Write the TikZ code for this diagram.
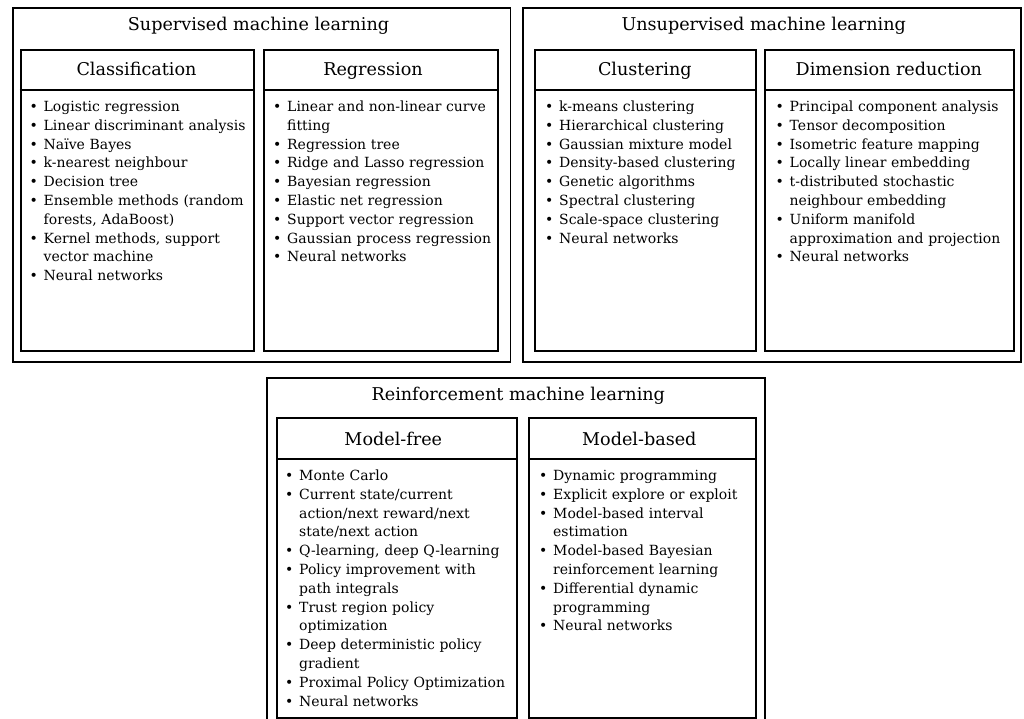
\documentclass[tikz,border=0pt]{standalone}
\usepackage{fontspec}
\setmainfont{DejaVu Serif}
\newcommand{\bitem}[1]{\par\noindent\hangindent=14pt\hangafter=1\makebox[14pt][l]{\rule{0pt}{13pt}\textbullet}#1}
\tikzset{
  outerbox/.style={draw=black, line width=1.7pt, rectangle, inner sep=0pt, anchor=north west},
  innerbox/.style={draw=black, line width=2.3pt, rectangle, inner sep=0pt, anchor=north west},
  sepline/.style={draw=black, line width=2.3pt},
  titletext/.style={font=\fontsize{17.6}{21}\selectfont, inner sep=0pt, anchor=base},
  listtext/.style={font=\fontsize{14}{18.8}\selectfont, text width=300pt, align=left, anchor=north west, inner sep=0pt},
}
\begin{document}
\begin{tikzpicture}[x=1pt,y=-1pt]
\useasboundingbox (0,0) rectangle (1024,719);
\clip (0,0) rectangle (1024,719);
% Supervised
\node[outerbox, minimum width=497.5pt, minimum height=353.5pt] (sup) at (12,7.5) {};
\node[titletext] (suptitle) at (258.5,30.5) {Supervised machine learning};
\node[innerbox, minimum width=233.5pt, minimum height=300.5pt] (cls) at (19.5,49) {};
\draw[sepline] ([yshift=-41pt]cls.north west) -- ([yshift=-41pt]cls.north east);
\node[titletext] (clsh) at (136.5,76) {Classification};
\node[listtext] (clsl) at (29.5,92.5) {%
\bitem{Logistic regression}
\bitem{Linear discriminant analysis}
\bitem{Naïve Bayes}
\bitem{k-nearest neighbour}
\bitem{Decision tree}
\bitem{Ensemble methods (random\newline forests, AdaBoost)}
\bitem{Kernel methods, support\newline vector machine}
\bitem{Neural networks}};
\node[innerbox, minimum width=234pt, minimum height=300.5pt] (reg) at (263,49) {};
\draw[sepline] ([yshift=-41pt]reg.north west) -- ([yshift=-41pt]reg.north east);
\node[titletext] (regh) at (373,76) {Regression};
\node[listtext] (regl) at (273,92.5) {%
\bitem{Linear and non-linear curve\newline fitting}
\bitem{Regression tree}
\bitem{Ridge and Lasso regression}
\bitem{Bayesian regression}
\bitem{Elastic net regression}
\bitem{Support vector regression}
\bitem{Gaussian process regression}
\bitem{Neural networks}};
% Unsupervised
\node[outerbox, minimum width=498pt, minimum height=353.5pt] (uns) at (522,7.5) {};
\node[titletext] (unstitle) at (763.7,30.5) {Unsupervised machine learning};
\node[innerbox, minimum width=221pt, minimum height=300.5pt] (clu) at (534,49) {};
\draw[sepline] ([yshift=-41pt]clu.north west) -- ([yshift=-41pt]clu.north east);
\node[titletext] (cluh) at (644.8,76) {Clustering};
\node[listtext] (clul) at (545,92.5) {%
\bitem{k-means clustering}
\bitem{Hierarchical clustering}
\bitem{Gaussian mixture model}
\bitem{Density-based clustering}
\bitem{Genetic algorithms}
\bitem{Spectral clustering}
\bitem{Scale-space clustering}
\bitem{Neural networks}};
\node[innerbox, minimum width=248.5pt, minimum height=300.5pt] (dim) at (764,49) {};
\draw[sepline] ([yshift=-41pt]dim.north west) -- ([yshift=-41pt]dim.north east);
\node[titletext] (dimh) at (888.8,76) {Dimension reduction};
\node[listtext] (diml) at (775.5,92.5) {%
\bitem{Principal component analysis}
\bitem{Tensor decomposition}
\bitem{Isometric feature mapping}
\bitem{Locally linear embedding}
\bitem{t-distributed stochastic\newline neighbour embedding}
\bitem{Uniform manifold\newline approximation and projection}
\bitem{Neural networks}};
% Reinforcement
\node[outerbox, minimum width=498pt, minimum height=360pt] (rei) at (266,377) {};
\node[titletext] (reititle) at (518.3,400) {Reinforcement machine learning};
\node[innerbox, minimum width=240pt, minimum height=300pt] (mfr) at (276,417) {};
\draw[sepline] ([yshift=-42pt]mfr.north west) -- ([yshift=-42pt]mfr.north east);
\node[titletext] (mfrh) at (393.3,445.5) {Model-free};
\node[listtext] (mfrl) at (285,461.5) {%
\bitem{Monte Carlo}
\bitem{Current state/current\newline action/next reward/next\newline state/next action}
\bitem{Q-learning, deep Q-learning}
\bitem{Policy improvement with\newline path integrals}
\bitem{Trust region policy\newline optimization}
\bitem{Deep deterministic policy\newline gradient}
\bitem{Proximal Policy Optimization}
\bitem{Neural networks}};
\node[innerbox, minimum width=227pt, minimum height=300pt] (mbs) at (528,417) {};
\draw[sepline] ([yshift=-42pt]mbs.north west) -- ([yshift=-42pt]mbs.north east);
\node[titletext] (mbsh) at (639.3,445.5) {Model-based};
\node[listtext] (mbsl) at (539,461.5) {%
\bitem{Dynamic programming}
\bitem{Explicit explore or exploit}
\bitem{Model-based interval\newline estimation}
\bitem{Model-based Bayesian\newline reinforcement learning}
\bitem{Differential dynamic\newline programming}
\bitem{Neural networks}};
\end{tikzpicture}
\end{document}
